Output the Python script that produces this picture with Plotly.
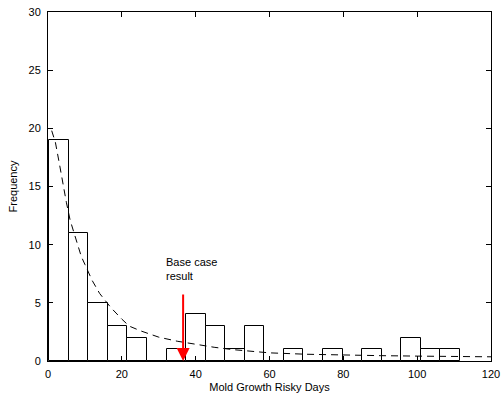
import numpy as np
import plotly.graph_objects as go

# Histogram counts (21 bins)
bin_start = 0.3
bin_width = 5.3
counts = [19, 11, 5, 3, 2, 0, 1, 4, 3, 1, 3, 0, 1, 0, 1, 0, 1, 0, 2, 1, 1]

# Fitted distribution curve
fit_x = [1, 2, 3, 4, 5, 6, 8, 9, 10, 12, 14, 17, 20, 22, 25, 30, 35, 40, 45, 50,
         55, 60, 70, 80, 90, 100, 110, 120]
fit_y = [19.8, 18.8, 17.1, 15.3, 13.6, 12.1, 9.9, 9.0, 8.3, 6.9, 5.8, 4.6, 3.6, 3.0,
         2.6, 2.05, 1.7, 1.42, 1.18, 0.98, 0.82, 0.7, 0.58, 0.5, 0.46, 0.42, 0.39, 0.36]

base_case_x = 36.6
x_ticks = [0, 20, 40, 60, 80, 100, 120]
y_ticks = [0, 5, 10, 15, 20, 25, 30]

centers = bin_start + bin_width * (np.arange(len(counts)) + 0.5)

font = dict(family="Liberation Sans, Arial, sans-serif", size=11, color="black")

fig = go.Figure()
fig.add_trace(go.Bar(
    x=centers, y=counts, width=bin_width,
    marker=dict(color="white", line=dict(color="black", width=1)),
    showlegend=False,
))
fig.add_trace(go.Scatter(
    x=fit_x, y=fit_y, mode="lines",
    line=dict(color="black", width=1, dash="7px,5px"),
    showlegend=False,
))

fig.add_annotation(
    x=base_case_x, y=0, ax=base_case_x, ay=5.85,
    xref="x", yref="y", axref="x", ayref="y",
    showarrow=True, arrowhead=2, arrowsize=1.3, arrowwidth=2, arrowcolor="red",
    text="",
)
fig.add_annotation(
    x=31.4, y=6.6, xref="x", yref="y", xanchor="left", yanchor="bottom",
    text="Base case<br>result", showarrow=False, align="left", font=font,
)

axis_common = dict(
    showline=True, linecolor="black", linewidth=1, mirror="ticks",
    ticks="inside", ticklen=5, tickcolor="black", showgrid=False, zeroline=False,
    tickfont=font, automargin=False,
)
fig.update_xaxes(range=[0, 120], tickvals=x_ticks,
                 title=dict(text="Mold Growth Risky Days", font=font, standoff=4),
                 ticklabelstandoff=3,
                 **axis_common)
fig.update_yaxes(range=[0, 30], tickvals=y_ticks,
                 title=dict(text="Frequency", font=font, standoff=8),
                 ticklabelstandoff=4,
                 **axis_common)

fig.update_layout(
    width=503, height=399,
    margin=dict(l=48, r=12, t=12, b=38),
    plot_bgcolor="white", paper_bgcolor="white",
    bargap=0, font=font,
)

fig.write_html("out.html", config={"displayModeBar": False},
               post_script="document.body.style.margin='0px';")
